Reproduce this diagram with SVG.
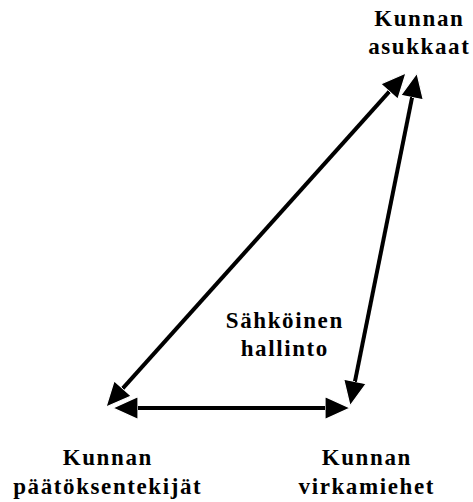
<svg xmlns="http://www.w3.org/2000/svg" width="473" height="502" viewBox="0 0 473 502">
<defs>
<style>
.lbl{font-family:"Liberation Serif","Times New Roman",serif;font-weight:bold;font-size:23px;letter-spacing:1.6px;fill:#000;text-anchor:middle}
.con{stroke:#000;stroke-width:4;fill:none}
</style>
<marker id="ah" markerUnits="userSpaceOnUse" markerWidth="26" markerHeight="24" refX="13" refY="11.5" orient="auto-start-reverse" viewBox="0 0 26 24">
<path d="M0,0 L25,11.5 L0,23 z" fill="#000" stroke="#fff" stroke-width="1.2" stroke-linejoin="miter"/>
</marker>
</defs>
<rect width="473" height="502" fill="#fff"/>
<g id="connectors">
<line class="con" x1="114" y1="398.1" x2="398" y2="81.9" marker-start="url(#ah)" marker-end="url(#ah)"/>
<line class="con" x1="414.6" y1="84.8" x2="352.4" y2="394.2" marker-start="url(#ah)" marker-end="url(#ah)"/>
<line class="con" x1="125" y1="408" x2="338" y2="408" marker-start="url(#ah)" marker-end="url(#ah)"/>
</g>
<g id="asukkaat">
<text class="lbl" x="419.3" y="26">Kunnan</text>
<text class="lbl" x="419.3" y="54">asukkaat</text>
</g>
<g id="hallinto">
<text class="lbl" x="284.8" y="328">Sähköinen</text>
<text class="lbl" x="284.8" y="356">hallinto</text>
</g>
<g id="paatoksentekijat">
<text class="lbl" x="107.8" y="465">Kunnan</text>
<text class="lbl" x="107.8" y="494">päätöksentekijät</text>
</g>
<g id="virkamiehet">
<text class="lbl" x="366.8" y="465">Kunnan</text>
<text class="lbl" x="366.8" y="494">virkamiehet</text>
</g>
</svg>
